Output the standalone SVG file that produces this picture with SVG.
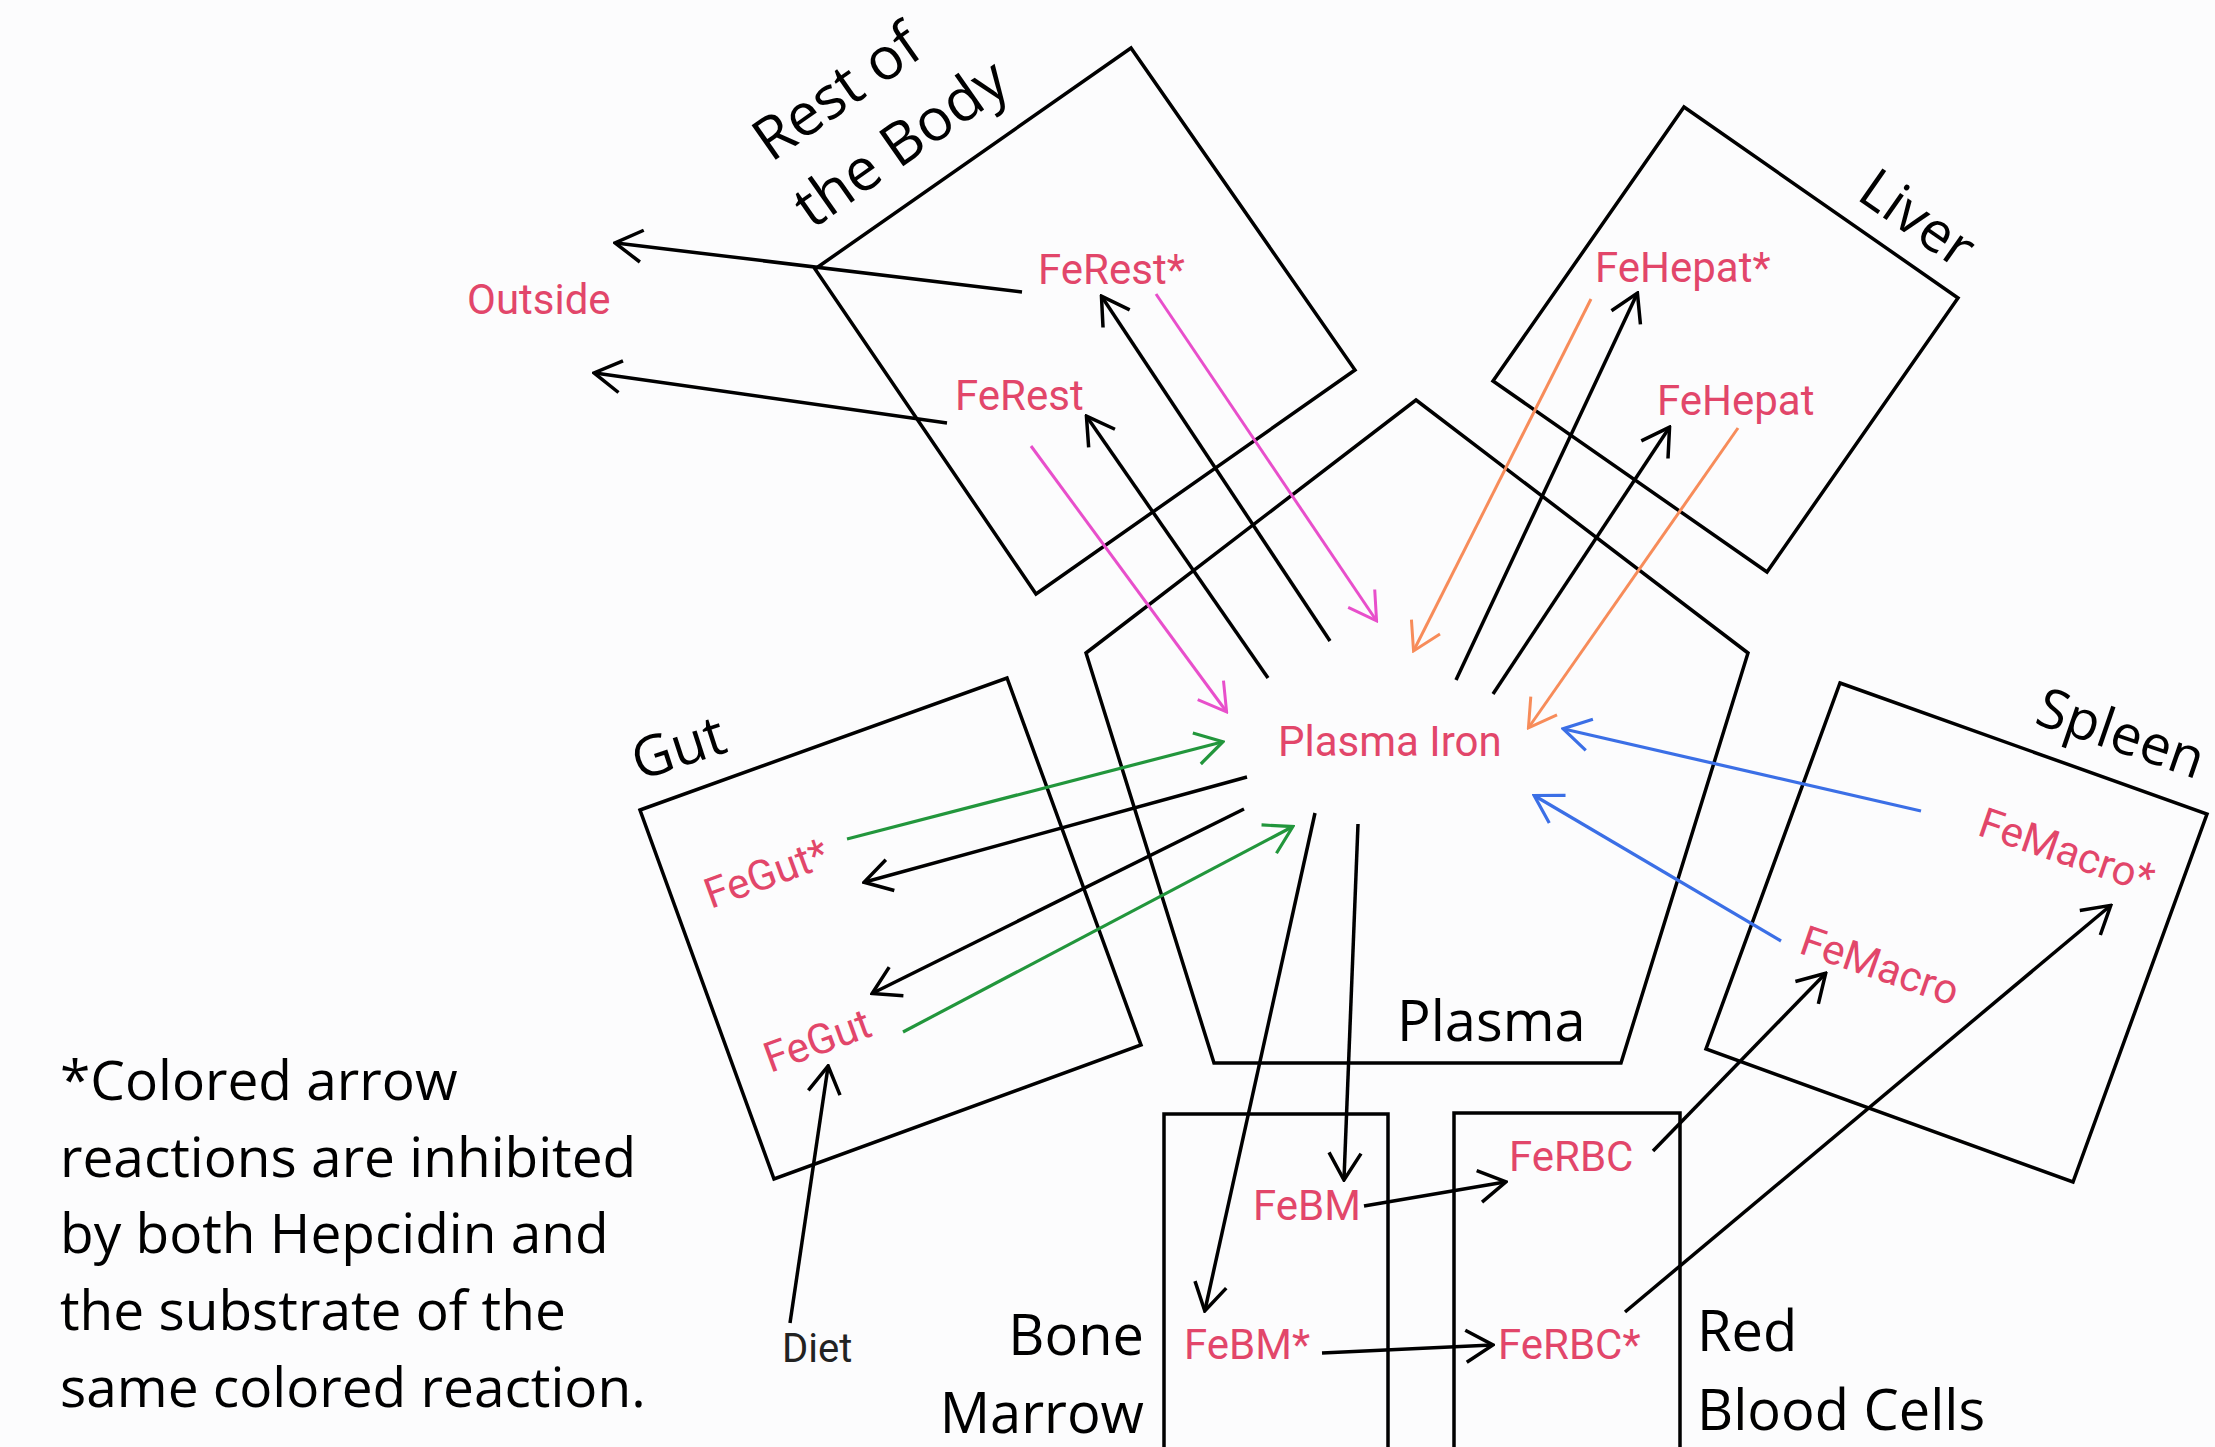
<svg xmlns="http://www.w3.org/2000/svg" width="2215" height="1447" viewBox="0 0 2215 1447">
<style>
.box{fill:none;stroke:#000;stroke-width:3.5;stroke-linejoin:miter}
.lbl{font-family:"Open Sans","Liberation Sans",sans-serif;font-size:56px;fill:#000}
.sp{font-family:Roboto,"Liberation Sans",sans-serif;font-size:42px;fill:#e2466a}
.note{font-family:"Open Sans","Liberation Sans",sans-serif;font-size:55px;fill:#000}
.k{stroke:#000;stroke-width:3.5;fill:none;marker-end:url(#mk)}
.m{stroke:#e84fcb;stroke-width:3;fill:none;marker-end:url(#mm)}
.o{stroke:#f78c5a;stroke-width:3;fill:none;marker-end:url(#mo)}
.b{stroke:#3b6fe6;stroke-width:3.2;fill:none;marker-end:url(#mb)}
.g{stroke:#22963c;stroke-width:3.2;fill:none;marker-end:url(#mg)}
</style>
<defs>
<marker id="mk" markerUnits="userSpaceOnUse" viewBox="0 0 32 36" refX="29" refY="18" markerWidth="32" markerHeight="36" orient="auto"><path d="M3,2 L30,18 L3,34" fill="none" stroke="#000" stroke-width="3.5"/></marker>
<marker id="mm" markerUnits="userSpaceOnUse" viewBox="0 0 32 36" refX="29" refY="18" markerWidth="32" markerHeight="36" orient="auto"><path d="M3,2 L30,18 L3,34" fill="none" stroke="#e84fcb" stroke-width="3"/></marker>
<marker id="mo" markerUnits="userSpaceOnUse" viewBox="0 0 32 36" refX="29" refY="18" markerWidth="32" markerHeight="36" orient="auto"><path d="M3,2 L30,18 L3,34" fill="none" stroke="#f78c5a" stroke-width="3"/></marker>
<marker id="mb" markerUnits="userSpaceOnUse" viewBox="0 0 32 36" refX="29" refY="18" markerWidth="32" markerHeight="36" orient="auto"><path d="M3,2 L30,18 L3,34" fill="none" stroke="#3b6fe6" stroke-width="3.2"/></marker>
<marker id="mg" markerUnits="userSpaceOnUse" viewBox="0 0 32 36" refX="29" refY="18" markerWidth="32" markerHeight="36" orient="auto"><path d="M3,2 L30,18 L3,34" fill="none" stroke="#22963c" stroke-width="3.2"/></marker>
</defs>
<rect x="0" y="0" width="2215" height="1447" fill="#fcfcfd"/>

<g id="rest">
<polygon class="box" points="815,269 1131,48 1355,370 1036,594"/>
<text class="lbl" style="font-size:59px" transform="translate(771,163) rotate(-35)">Rest of</text>
<text class="lbl" style="font-size:59px" transform="translate(812,230) rotate(-35)">the Body</text>
<text class="sp" x="1038" y="284">FeRest*</text>
<text class="sp" x="955" y="410">FeRest</text>
</g>
<g id="outside">
<text class="sp" x="467" y="314">Outside</text>
</g>
<g id="liver">
<polygon class="box" points="1493,381 1684,107 1958,298 1767,572"/>
<text class="lbl" transform="translate(1855,198) rotate(35)">Liver</text>
<text class="sp" x="1595" y="282">FeHepat*</text>
<text class="sp" x="1657" y="415">FeHepat</text>
</g>
<g id="plasma">
<polygon class="box" points="1416,400 1748,653 1621,1063 1214,1063 1086,653"/>
<text class="lbl" x="1397" y="1041">Plasma</text>
<text class="sp" x="1278" y="756">Plasma Iron</text>
</g>
<g id="spleen">
<polygon class="box" points="1840,683 2207,814 2073,1182 1706,1049"/>
<text class="lbl" style="font-size:55px" transform="translate(2033,723) rotate(19)">Spleen</text>
<text class="sp" text-anchor="middle" transform="translate(2067,850) rotate(19)" y="15">FeMacro*</text>
<text class="sp" text-anchor="middle" transform="translate(1880,965) rotate(19)" y="15">FeMacro</text>
</g>
<g id="gut">
<polygon class="box" points="640,810 1007,678 1141,1045 774,1179"/>
<text class="lbl" text-anchor="middle" transform="translate(678,747) rotate(-18)" y="20">Gut</text>
<text class="sp" text-anchor="middle" transform="translate(766,873) rotate(-20)" y="15">FeGut*</text>
<text class="sp" text-anchor="middle" transform="translate(817,1040) rotate(-20)" y="15">FeGut</text>
</g>
<g id="diet">
<text x="782" y="1362" style="font-family:Roboto,'Liberation Sans',sans-serif;font-size:40px;fill:#222">Diet</text>
</g>
<g id="bonemarrow">
<rect class="box" x="1164" y="1114" width="224" height="360"/>
<text class="lbl" x="1144" y="1355" text-anchor="end">Bone</text>
<text class="lbl" x="1144" y="1433" text-anchor="end">Marrow</text>
<text class="sp" x="1253" y="1220">FeBM</text>
<text class="sp" x="1184" y="1359">FeBM*</text>
</g>
<g id="rbc">
<rect class="box" x="1454" y="1113" width="226" height="360"/>
<text class="lbl" x="1697" y="1351">Red</text>
<text class="lbl" x="1697" y="1430">Blood Cells</text>
<text class="sp" x="1509" y="1171">FeRBC</text>
<text class="sp" x="1498" y="1359">FeRBC*</text>
</g>
<g id="note">
<text class="note" x="60" y="1100">*Colored arrow</text>
<text class="note" x="60" y="1177">reactions are inhibited</text>
<text class="note" x="60" y="1253">by both Hepcidin and</text>
<text class="note" x="60" y="1330">the substrate of the</text>
<text class="note" x="60" y="1407">same colored reaction.</text>
</g>

<g id="connectors">
<line class="k" x1="1022" y1="292" x2="616" y2="243"/>
<line class="k" x1="947" y1="423" x2="595" y2="373"/>
<line class="k" x1="1330" y1="641" x2="1102" y2="297"/>
<line class="k" x1="1268" y1="678" x2="1087" y2="417"/>
<line class="m" x1="1156" y1="294" x2="1376" y2="620"/>
<line class="m" x1="1031" y1="446" x2="1226" y2="711"/>
<line class="o" x1="1591" y1="299" x2="1414" y2="650"/>
<line class="k" x1="1456" y1="680" x2="1637" y2="294"/>
<line class="k" x1="1493" y1="694" x2="1669" y2="428"/>
<line class="o" x1="1738" y1="428" x2="1529" y2="727"/>
<line class="b" x1="1921" y1="811" x2="1564" y2="729"/>
<line class="b" x1="1781" y1="941" x2="1535" y2="796"/>
<line class="k" x1="1653" y1="1151" x2="1825" y2="974"/>
<line class="k" x1="1625" y1="1312" x2="2110" y2="906"/>
<line class="k" x1="1358" y1="824" x2="1344" y2="1179"/>
<line class="k" x1="1315" y1="813" x2="1205" y2="1310"/>
<line class="k" x1="1364" y1="1206" x2="1505" y2="1182"/>
<line class="k" x1="1322" y1="1353" x2="1492" y2="1345"/>
<line class="g" x1="847" y1="839" x2="1222" y2="742"/>
<line class="k" x1="1247" y1="777" x2="865" y2="882"/>
<line class="k" x1="1244" y1="809" x2="873" y2="993"/>
<line class="g" x1="903" y1="1032" x2="1292" y2="827"/>
<line class="k" x1="790" y1="1323" x2="828" y2="1067"/>
</g>
</svg>
